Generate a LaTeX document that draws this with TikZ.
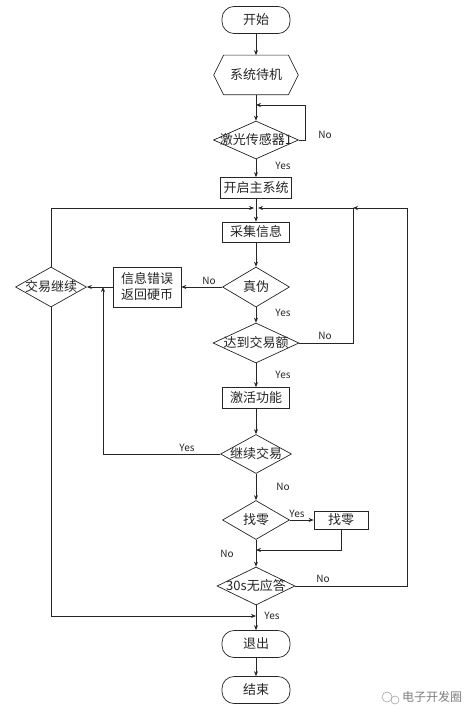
\documentclass[tikz,border=0pt]{standalone}
\usepackage{fontspec}
\setmainfont{Noto Sans CJK SC}
\usetikzlibrary{shapes.geometric,arrows.meta,calc}
\newcommand\zdtext[1]{\makebox[0pt]{#1}}
\begin{document}
\begin{tikzpicture}[x=1pt,y=-1pt,
  line width=0.7pt, draw=black!85,
  every node/.style={font=\fontsize{13}{15}\selectfont, inner sep=0pt, text=black!85},
  term/.style={draw, rounded corners=12pt, minimum width=68pt, minimum height=27pt},
  procbox/.style={draw, rectangle, minimum width=#1, minimum height=21pt},
  dia/.style 2 args={draw, diamond, minimum width=#1, minimum height=#2},
  lbl/.style={font=\fontsize{10}{12}\selectfont},
  arr/.style={-{Stealth[length=5pt,width=4pt]}},
]
\useasboundingbox (0,0) rectangle (474,719);
\fill[white] (0,0) rectangle (474,719);

% nodes
\node[term] (start) at (256,20) {开始};
\node[minimum width=84pt, minimum height=39pt] (standby) at (256,75) {系统待机};
\draw (standby.west) -- ([xshift=10pt]standby.north west) -- ([xshift=-10pt]standby.north east)
  -- (standby.east) -- ([xshift=-10pt]standby.south east) -- ([xshift=10pt]standby.south west) -- cycle;
\node[dia={85pt}{38pt}] (sensor) at (256,140) {\zdtext{激光传感器1}};
\node[procbox=71pt] (open) at (256,188) {开启主系统};
\node[procbox=67pt, minimum height=20pt] (collect) at (256,232) {采集信息};
\node[dia={67pt}{40pt}] (auth) at (256,287) {\zdtext{真伪}};
\node[draw, minimum width=68pt, minimum height=40pt, align=center,
      font=\fontsize{13}{16}\selectfont] (err) at (147,287) {信息错误\\返回硬币};
\node[dia={71pt}{40pt}] (cont) at (51,287) {\zdtext{交易继续}};
\node[dia={86pt}{40pt}] (reach) at (256,343) {\zdtext{达到交易额}};
\node[procbox=67pt] (activate) at (256,398) {激活功能};
\node[dia={71pt}{39pt}] (more) at (256,454) {\zdtext{继续交易}};
\node[dia={67pt}{39pt}] (chgq) at (256,520) {\zdtext{找零}};
\node[draw, minimum width=54pt, minimum height=18pt] (chgbox) at (341,520) {找零};
\node[dia={78pt}{38pt}] (timeout) at (256,586) {\zdtext{30s无应答}};
\node[term] (exit) at (256,644) {退出};
\node[term] (end) at (256,690) {结束};

% junction coordinates
\coordinate (j1) at (256,105);
\coordinate (jtopL) at (254,208);
\coordinate (jtopR) at (258,208);
\coordinate (r1) at (353,208);
\coordinate (r2) at (407,208);
\coordinate (lj) at (103,287);
\coordinate (j2) at (256,550);
\coordinate (j3) at (256,616);

% connectors
\draw[arr] (start) -- (standby);
\draw[arr] (standby) -- (sensor);
\draw[arr] (sensor.east) -- ++(6,0) |- (j1);
\draw[arr] (sensor) -- (open);
\draw[arr] (open) -- (collect);
\draw[arr] (cont.north) |- (jtopL);
\draw[arr] (timeout.east) -| (r2) -- (r1);
\draw[arr] (reach.east) -| (r1) -- (jtopR);
\draw[arr] (collect) -- (auth);
\draw[arr] (auth) -- (err);
\draw[arr] (err) -- (cont);
\draw[arr] (auth) -- (reach);
\draw[arr] (reach) -- (activate);
\draw[arr] (activate) -- (more);
\draw[arr] (more.west) -| (lj);
\draw[arr] (more) -- (chgq);
\draw[arr] (chgq) -- (chgbox);
\draw[arr] (chgq) -- (timeout);
\draw[arr] (chgbox.south) |- (j2);
\draw[arr] (timeout) -- (exit);
\draw[arr] (cont.south) |- (j3);
\draw[arr] (exit) -- (end);

% labels
\node[lbl] (l1) at (325,135) {No};
\node[lbl] (l2) at (283,166) {Yes};
\node[lbl] (l3) at (209,281) {No};
\node[lbl] (l4) at (283,313) {Yes};
\node[lbl] (l5) at (325,336) {No};
\node[lbl] (l6) at (283,375) {Yes};
\node[lbl] (l7) at (187,448) {Yes};
\node[lbl] (l8) at (283,487) {No};
\node[lbl] (l9) at (297,514) {Yes};
\node[lbl] (l10) at (227,554) {No};
\node[lbl] (l11) at (323,579) {No};
\node[lbl] (l12) at (272,616) {Yes};

% watermark
\draw[black!35, line width=0.6pt] (387,697) circle (5pt);
\draw[black!35, line width=0.6pt] (395,700) circle (4pt);
\node[font=\fontsize{12}{14}\selectfont, text=black!50] (wm) at (432,697) {电子开发圈};
\end{tikzpicture}
\end{document}
